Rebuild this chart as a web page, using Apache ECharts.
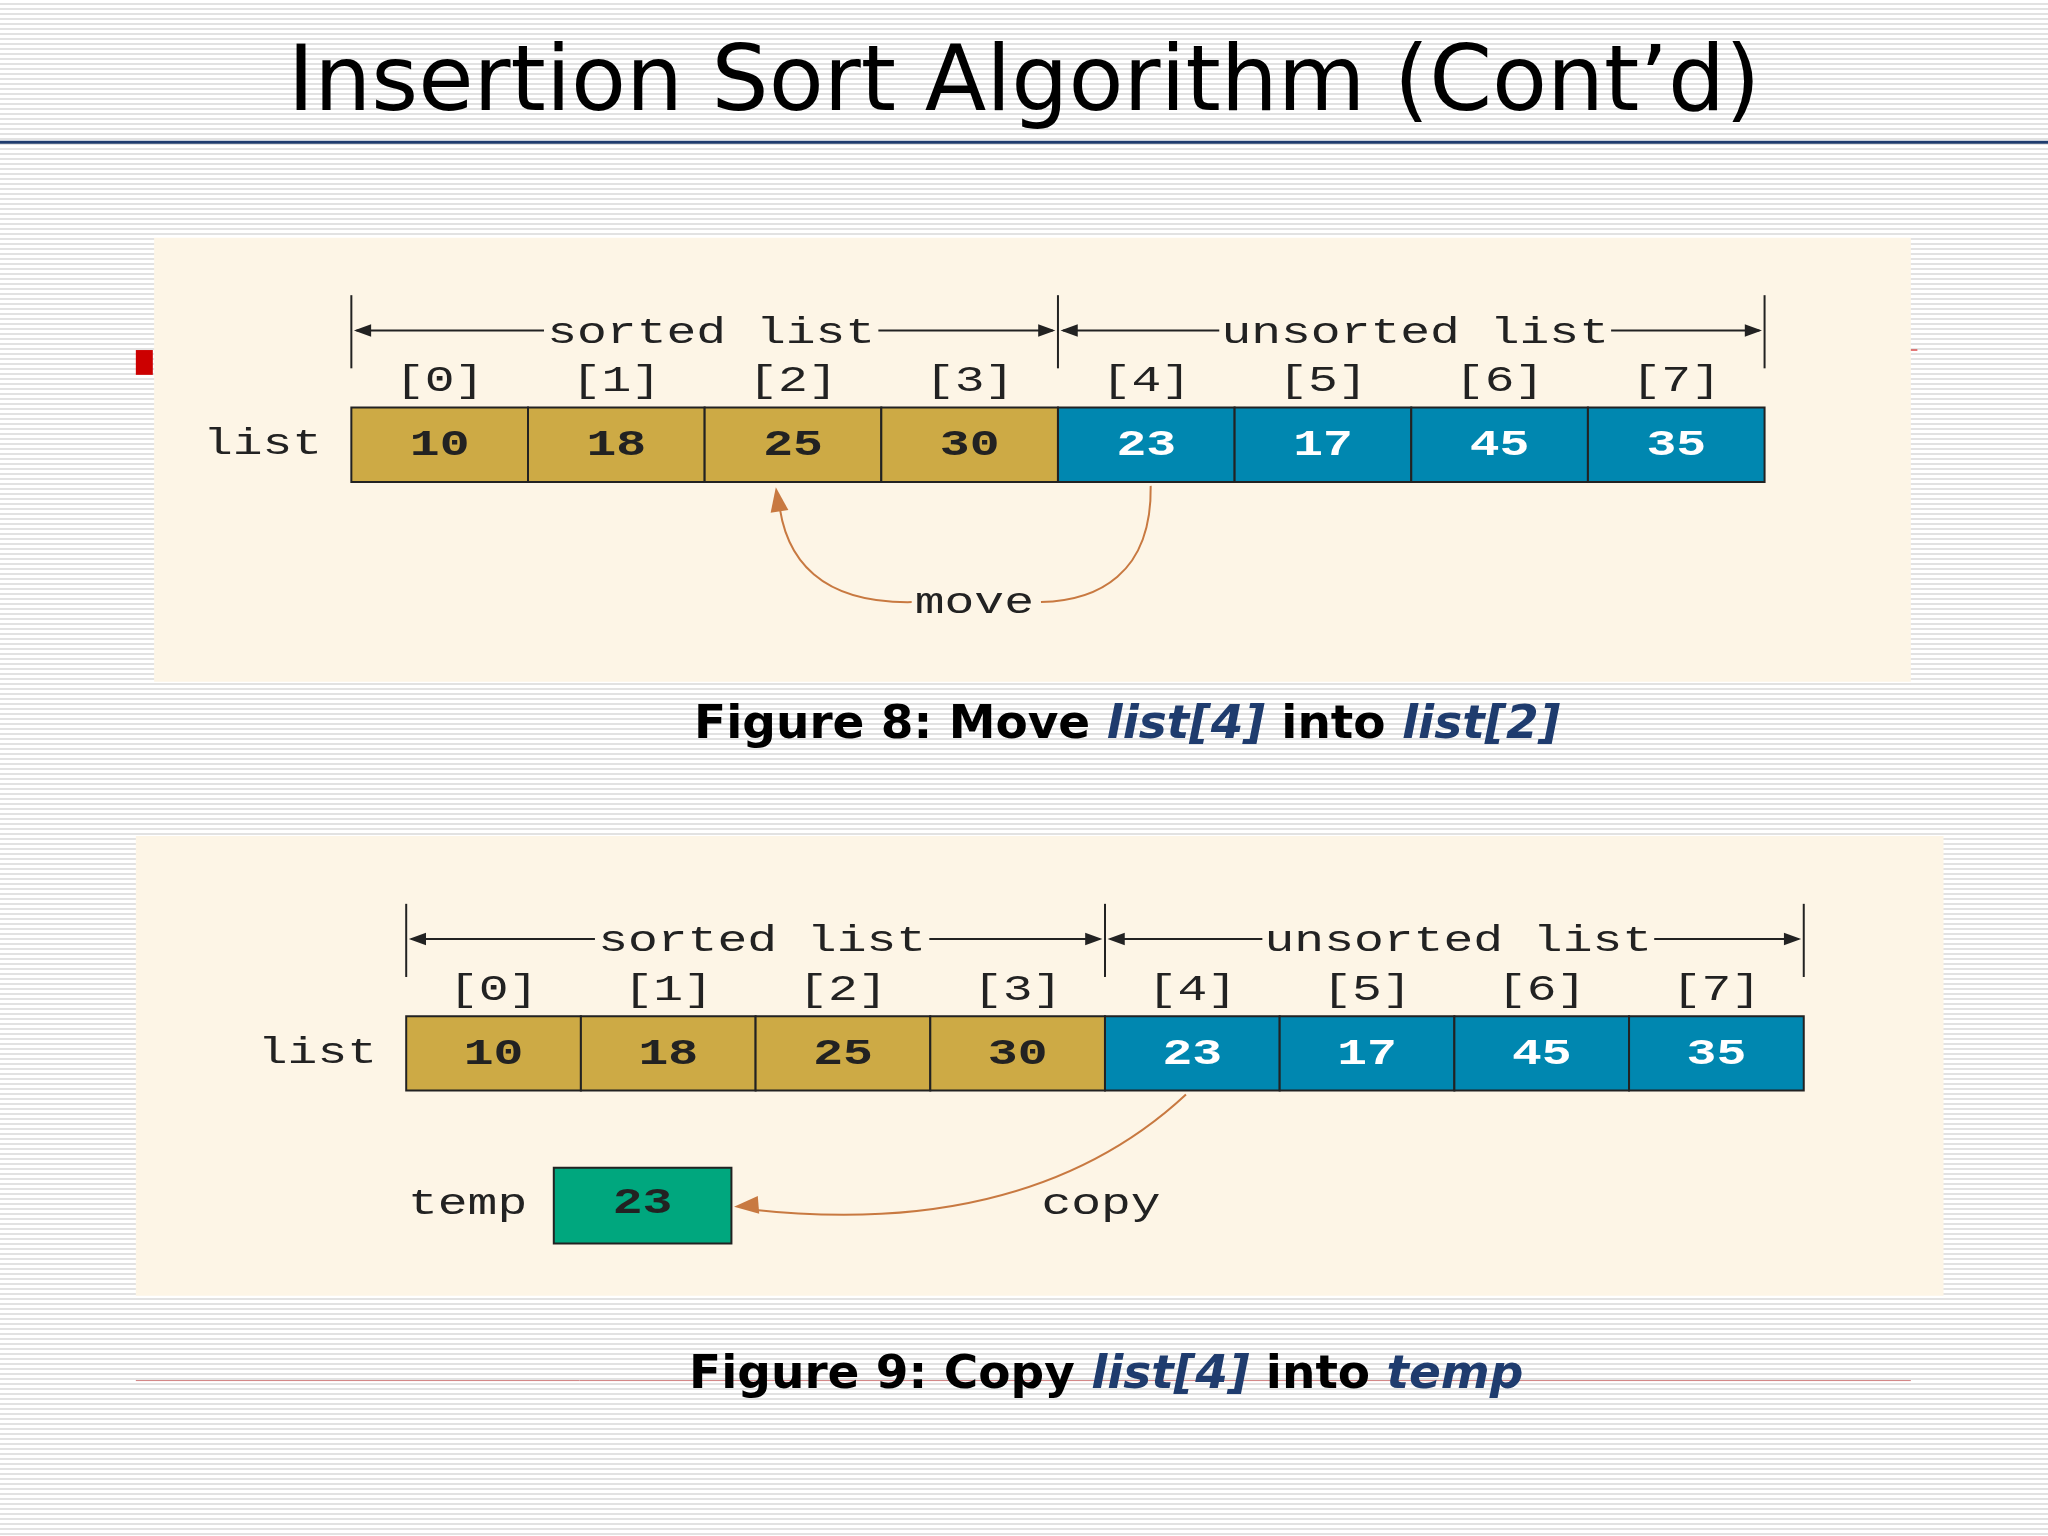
<!DOCTYPE html>
<html><head><meta charset="utf-8">
<script src="https://cdn.jsdelivr.net/npm/echarts@6/dist/echarts.min.js"></script>
<style>
html,body{margin:0;padding:0;}
body{background:#fff repeating-linear-gradient(180deg,#fff 0px,#fff 3px,#e2e2e2 3px,#e2e2e2 5px);}
#c{width:2048px;height:1536px;}
</style></head><body><div id="c"></div>
<script>
const indexLabels = ['[0]','[1]','[2]','[3]','[4]','[5]','[6]','[7]'];
const listValues = [10,18,25,30,23,17,45,35];
const sortedCount = 4;
const tempValue = 23;
const title = 'Insertion Sort Algorithm (Cont\u2019d)';

const s = 2048/1568;
const S = v => v*s;
const chart = echarts.init(document.getElementById('c'));
const g = [];
const mono = '"Liberation Mono","DejaVu Sans Mono",monospace';
function rect(x,y,w,h,fill,stroke){g.push({type:'rect',shape:{x:S(x),y:S(y),width:S(w),height:S(h)},style:{fill:fill,stroke:stroke||null,lineWidth:stroke?2:0}});}
function text(x,y,t,opt,sx){g.push({type:'text',x:S(x),y:S(y),scaleX:sx||1.38,style:Object.assign({text:t,fill:'#222',font:'normal 36px '+mono,align:'center',verticalAlign:'middle'},opt||{})});}
function line(pts,color,w){g.push({type:'polyline',shape:{points:pts.map(p=>[S(p[0]),S(p[1])])},style:{stroke:color,lineWidth:w||2,fill:null}});}
function arrowHead(x,y,dir,color,len){
  len=len||14; const a=0.35;
  const p1=[x-len*Math.cos(dir-a),y-len*Math.sin(dir-a)], p2=[x-len*Math.cos(dir+a),y-len*Math.sin(dir+a)];
  g.push({type:'polygon',shape:{points:[[S(x),S(y)],[S(p1[0]),S(p1[1])],[S(p2[0]),S(p2[1])]]},style:{fill:color}});
}
text(784,66,title,{font:'normal 90px "DejaVu Sans",sans-serif',fill:'#000'},1);
line([[0,109],[1568,109]],'#1f3c6e',3);
rect(104,268,13,19,'#cc0000');
line([[104,1057],[1463,1057]],'#d08080',1);
line([[1458,268],[1468,268]],'#cc0000',1);

function figure(px,py,pw,ph,x0,cw,yTop){
  rect(px,py,pw,ph,'#fdf5e6');
  const ch=57, xs=[]; for(let i=0;i<=listValues.length;i++) xs.push(x0+i*cw);
  const hy=yTop-59;
  [0,sortedCount,listValues.length].forEach(i=>line([[xs[i],hy-27],[xs[i],hy+29]],'#222',2));
  const mid1=(xs[0]+xs[sortedCount])/2+5, mid2=(xs[sortedCount]+xs[listValues.length])/2+3;
  line([[xs[0]+4,hy],[mid1-128,hy]],'#222',2); arrowHead(xs[0]+2,hy,Math.PI,'#222');
  line([[mid1+128,hy],[xs[sortedCount]-4,hy]],'#222',2); arrowHead(xs[sortedCount]-2,hy,0,'#222');
  line([[xs[sortedCount]+4,hy],[mid2-150,hy]],'#222',2); arrowHead(xs[sortedCount]+2,hy,Math.PI,'#222');
  line([[mid2+150,hy],[xs[listValues.length]-4,hy]],'#222',2); arrowHead(xs[listValues.length]-2,hy,0,'#222');
  text(mid1,hy+2,'sorted list'); text(mid2,hy+2,'unsorted list');
  listValues.forEach((v,i)=>{
    const sorted=i<sortedCount;
    rect(xs[i],yTop,cw,ch,sorted?'#cdaa45':'#0087b0','#222');
    text(xs[i]+cw/2,yTop-20,indexLabels[i]);
    text(xs[i]+cw/2,yTop+ch/2+1,String(v),{fill:sorted?'#222':'#fff',font:'bold 36px '+mono});
  });
  text(x0-68,yTop+ch/2,'list');
}
const orange='#c87941';
figure(118,182,1345,340,269,135.25,312);
g.push({type:'bezierCurve',shape:{x1:S(881),y1:S(372),cpx1:S(882),cpy1:S(440),cpx2:S(840),cpy2:S(460),x2:S(797),y2:S(461)},style:{stroke:orange,lineWidth:2,fill:null}});
g.push({type:'bezierCurve',shape:{x1:S(698),y1:S(461),cpx1:S(630),cpy1:S(462),cpx2:S(600),cpy2:S(430),x2:S(596),y2:S(380)},style:{stroke:orange,lineWidth:2,fill:null}});
arrowHead(594,373,-Math.PI/2-0.15,orange,20);
text(746,462,'move');
const rich={b:{font:'bold 47px "DejaVu Sans",sans-serif',fill:'#000'},i:{font:'italic bold 47px "DejaVu Sans",sans-serif',fill:'#1f3c6e'}};
g.push({type:'text',x:S(863),y:S(556),style:{text:'{b|Figure 8: Move }{i|list[4]}{b| into }{i|list[2]}',align:'center',verticalAlign:'middle',rich:rich}});
figure(104,640,1384,352,311,133.75,778);
rect(424,894,136,58,'#00a77e','#222');
text(492,922,String(tempValue),{font:'bold 36px '+mono});
text(358,922,'temp');
g.push({type:'bezierCurve',shape:{x1:S(908),y1:S(838),cpx1:S(820),cpy1:S(920),cpx2:S(700),cpy2:S(940),x2:S(575),y2:S(926)},style:{stroke:orange,lineWidth:2,fill:null}});
arrowHead(562,924,Math.PI-0.08,orange,20);
text(843,922,'copy');
g.push({type:'text',x:S(847),y:S(1053),style:{text:'{b|Figure 9: Copy }{i|list[4]}{b| into }{i|temp}',align:'center',verticalAlign:'middle',rich:rich}});
chart.setOption({backgroundColor:'transparent',graphic:{elements:g}});
</script></body></html>
